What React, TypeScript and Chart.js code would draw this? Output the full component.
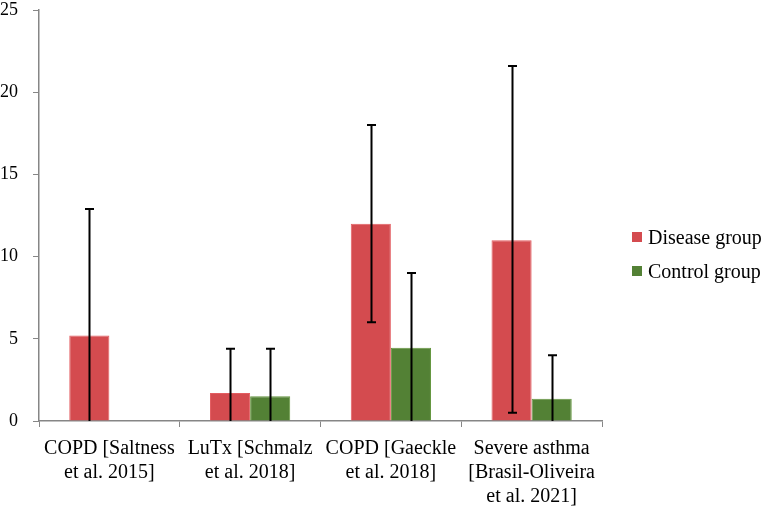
import { useEffect, useRef } from "react";
import { Chart, registerables } from "chart.js";

Chart.register(...registerables);

const categories = [
  ["COPD [Saltness", "et al. 2015]"],
  ["LuTx [Schmalz", "et al. 2018]"],
  ["COPD [Gaeckle", "et al. 2018]"],
  ["Severe asthma", "[Brasil-Oliveira", "et al. 2021]"],
];

const diseaseValues = [5.2, 1.7, 12.0, 11.0];
const diseaseLow = [0, 0, 6.0, 0.5];
const diseaseHigh = [12.9, 4.4, 18.0, 21.6];

const controlValues = [null, 1.5, 4.45, 1.35];
const controlLow = [null, 0, 0, 0];
const controlHigh = [null, 4.4, 9.0, 4.0];

const yTicks = [0, 5, 10, 15, 20, 25];

const RED = "#d44b4f";
const GREEN = "#538135";
const AXIS = "#868686";
const FONT = "'Liberation Serif', 'DejaVu Serif', serif";

const errorRanges = [
  { low: diseaseLow, high: diseaseHigh },
  { low: controlLow, high: controlHigh },
];

// whiskers drawn from the bar element positions
const errorBarPlugin = {
  id: "errorBars",
  afterDatasetsDraw(chart: any) {
    const { ctx } = chart;
    const y = chart.scales.y;
    ctx.save();
    ctx.strokeStyle = "#000";
    ctx.lineWidth = 2;
    chart.data.datasets.forEach((_ds: any, di: number) => {
      const meta = chart.getDatasetMeta(di);
      const range = errorRanges[di];
      meta.data.forEach((bar: any, i: number) => {
        const lo = range.low[i];
        const hi = range.high[i];
        if (lo == null || hi == null) return;
        const x = Math.round(bar.x) + 0.5;
        const yLo = y.getPixelForValue(lo);
        const yHi = y.getPixelForValue(hi);
        ctx.beginPath();
        ctx.moveTo(x, yLo);
        ctx.lineTo(x, yHi);
        ctx.moveTo(x - 4.5, yHi);
        ctx.lineTo(x + 4.5, yHi);
        if (lo > 0) {
          ctx.moveTo(x - 4.5, yLo);
          ctx.lineTo(x + 4.5, yLo);
        }
        ctx.stroke();
      });
    });
    ctx.restore();
  },
};

export default function App() {
  const chartRef = useRef<HTMLCanvasElement>(null);
  const chartInstance = useRef<Chart | null>(null);

  useEffect(() => {
    document.body.style.margin = "0";
    if (!chartRef.current) return;

    if (chartInstance.current) {
      chartInstance.current.destroy();
    }

    const ctx = chartRef.current.getContext("2d");
    if (!ctx) return;

    chartInstance.current = new Chart(ctx, {
      type: "bar",
      data: {
        labels: categories,
        datasets: [
          {
            label: "Disease group",
            data: diseaseValues,
            backgroundColor: RED,
            borderColor: "#e35d61",
            borderWidth: 1,
          },
          {
            label: "Control group",
            data: controlValues as any,
            backgroundColor: GREEN,
            borderColor: "#64963f",
            borderWidth: 1,
          },
        ],
      },
      options: {
        responsive: true,
        maintainAspectRatio: false,
        animation: false,
        layout: {
          padding: { top: 10, right: 163, left: 0, bottom: 0 },
        },
        datasets: {
          bar: {
            categoryPercentage: 0.57,
            barPercentage: 1,
          },
        },
        plugins: {
          legend: { display: false },
          tooltip: { enabled: false },
        },
        scales: {
          x: {
            afterFit(scale: any) {
              scale.height = 87;
              scale.paddingLeft = 0;
              scale.paddingRight = 0;
            },
            grid: {
              offset: true,
              drawOnChartArea: false,
              drawTicks: true,
              tickLength: 6,
              color: AXIS,
            },
            border: { color: AXIS, width: 1.5 },
            ticks: {
              color: "#000",
              font: { family: FONT, size: 20, lineHeight: 1.2 },
              maxRotation: 0,
              autoSkip: false,
              padding: 10,
            },
          },
          y: {
            min: 0,
            max: 25,
            afterBuildTicks(scale: any) {
              scale.ticks = yTicks.map((v) => ({ value: v }));
            },
            afterFit(scale: any) {
              scale.width = 39;
              scale.paddingTop = 0;
              scale.paddingBottom = 0;
            },
            grid: {
              drawOnChartArea: false,
              drawTicks: true,
              tickLength: 6,
              color: AXIS,
            },
            border: { color: AXIS, width: 1.5 },
            ticks: {
              color: "#000",
              font: { family: FONT, size: 18 },
              padding: 15,
            },
          },
        },
      },
      plugins: [errorBarPlugin],
    });

    return () => {
      if (chartInstance.current) {
        chartInstance.current.destroy();
        chartInstance.current = null;
      }
    };
  }, []);

  const legendItems = [
    { label: "Disease group", color: RED },
    { label: "Control group", color: GREEN },
  ];

  return (
    <div style={{ position: "relative", width: 765, height: 508 }}>
      <canvas ref={chartRef}></canvas>
      <div
        style={{
          position: "absolute",
          left: 632,
          top: 220,
          fontFamily: FONT,
          fontSize: 20,
          color: "#000",
          whiteSpace: "nowrap",
        }}
      >
        {legendItems.map((item) => (
          <div
            key={item.label}
            style={{ display: "flex", alignItems: "center", height: 34 }}
          >
            <span
              style={{
                display: "inline-block",
                width: 10,
                height: 10,
                background: item.color,
                marginRight: 6,
              }}
            ></span>
            {item.label}
          </div>
        ))}
      </div>
    </div>
  );
}
